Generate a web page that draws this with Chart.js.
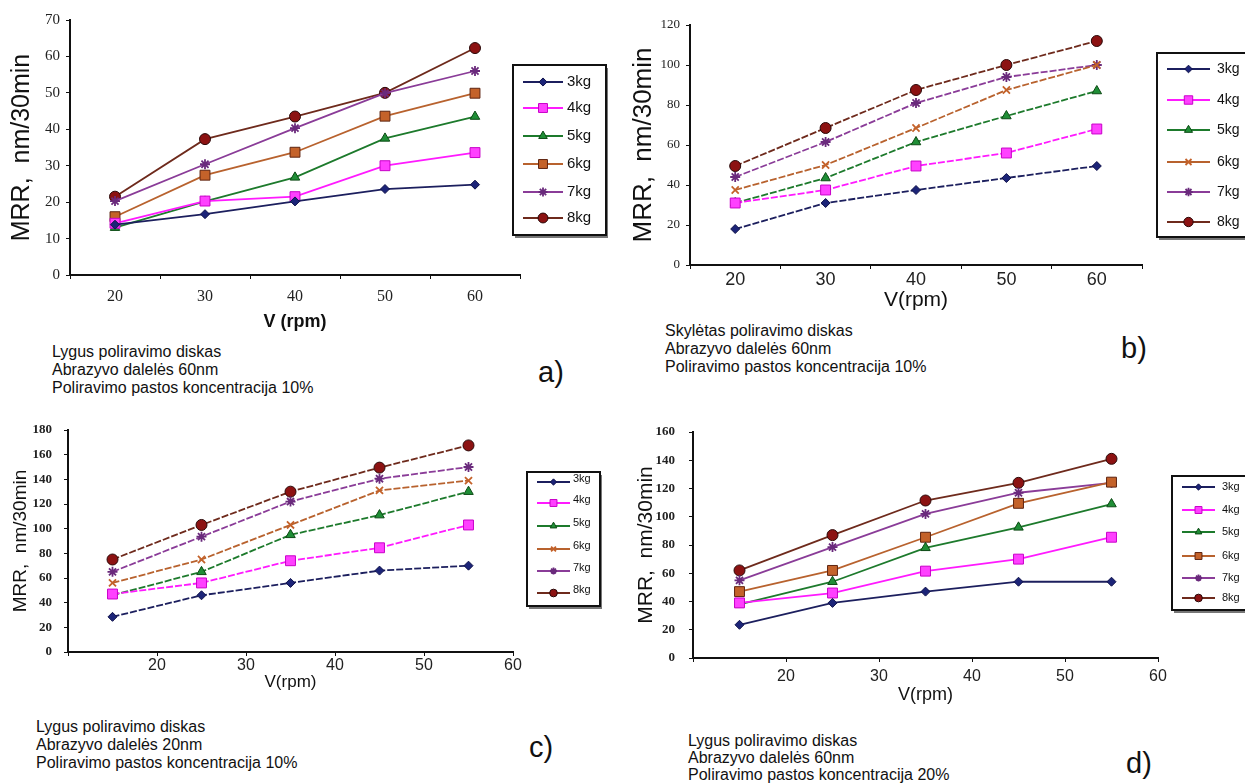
<!DOCTYPE html>
<html lang="lt">
<head>
    <meta charset="UTF-8">
    <title>MRR priklausomybė nuo apsukų</title>
    <script src="https://cdn.jsdelivr.net/npm/chart.js"></script>
    <style>
        body {
            margin: 0;
            padding: 0;
            background: #fff;
            font-family: 'Liberation Sans', Arial, sans-serif;
        }

        .page {
            position: relative;
            width: 1245px;
            height: 783px;
            overflow: hidden;
        }

        canvas {
            position: absolute;
        }

        .caption {
            position: absolute;
            color: #111;
            white-space: nowrap;
            font-size: 16px;
            line-height: 18px;
        }

        .panel-label {
            position: absolute;
            font-size: 29px;
            color: #111;
        }
    </style>
</head>
<body>
    <div class="page">
        <canvas id="chartA" width="620" height="340" style="left:0;top:0"></canvas>
        <canvas id="chartB" width="625" height="320" style="left:620px;top:0"></canvas>
        <canvas id="chartC" width="620" height="300" style="left:0;top:400px"></canvas>
        <canvas id="chartD" width="625" height="310" style="left:620px;top:400px"></canvas>

        <div class="caption" style="left:52px;top:343px">Lygus poliravimo diskas<br>Abrazyvo dalelės 60nm<br>Poliravimo pastos koncentracija 10%</div>
        <div class="caption" style="left:665px;top:322px">Skylėtas poliravimo diskas<br>Abrazyvo dalelės 60nm<br>Poliravimo pastos koncentracija 10%</div>
        <div class="caption" style="left:36px;top:718px">Lygus poliravimo diskas<br>Abrazyvo dalelės 20nm<br>Poliravimo pastos koncentracija 10%</div>
        <div class="caption" style="left:688px;top:732px;line-height:17px">Lygus poliravimo diskas<br>Abrazyvo dalelės 60nm<br>Poliravimo pastos koncentracija 20%</div>

        <div class="panel-label" style="left:538px;top:356px">a)</div>
        <div class="panel-label" style="left:1121px;top:332px">b)</div>
        <div class="panel-label" style="left:529px;top:731px">c)</div>
        <div class="panel-label" style="left:1126px;top:747px">d)</div>
    </div>

    <script>
        // apkrovos (legenda)
        const kgLabels = ['3kg', '4kg', '5kg', '6kg', '7kg', '8kg'];

        // a) ir b) - apsukos kaip kategorijos
        const rpmAB = ['20', '30', '40', '50', '60'];
        // c) ir d) - apsukos skaitinėje ašyje
        const rpmCD = [15, 25, 35, 45, 55];

        // MRR, nm/30min - eilutės pagal kgLabels
        const mrrA = [
            [13.8, 16.7, 20.2, 23.6, 24.8],
            [14.2, 20.3, 21.5, 30.0, 33.6],
            [13.0, 20.2, 26.8, 37.5, 43.5],
            [16.0, 27.4, 33.7, 43.6, 49.9],
            [20.3, 30.4, 40.3, 49.9, 56.0],
            [21.5, 37.3, 43.5, 50.0, 62.3]
        ];

        const mrrB = [
            [18, 31, 37.5, 43.5, 49.5],
            [31, 37.5, 49.5, 56, 68],
            [31, 43.5, 61.5, 74.5, 87],
            [37.5, 50, 68.5, 87.5, 100],
            [44, 61.5, 81, 94, 100],
            [49.5, 68.5, 87.5, 100, 112]
        ];

        const mrrC = [
            [28.5, 46, 56, 66, 70],
            [47, 56, 74, 84.5, 103],
            [46, 65, 95, 111, 130],
            [56, 75, 103, 131, 139],
            [65, 93.5, 122, 140.5, 150],
            [75, 103, 130, 149.5, 167.5]
        ];

        const mrrD = [
            [23.5, 39, 47, 54, 54],
            [39, 46, 61.5, 70, 85.5],
            [38, 54, 78, 92.5, 109],
            [47, 62, 85.5, 109.5, 124.5],
            [55, 78.5, 102, 117, 124],
            [62, 87, 111.5, 124, 141]
        ];

        const SANS = "'Liberation Sans', Arial, sans-serif";
        const SERIF = "'Liberation Serif', 'Times New Roman', serif";

        // spalvos ir žymekliai
        const lineColors = ['#1c1f5e', '#ff1aff', '#1d7a2c', '#b8622e', '#8a3c98', '#6e2a1c'];
        const pointFill = ['#1c2478', '#ff40ff', '#1f8e36', '#c4622a', '#6a2a7c', '#8c1212'];
        const pointEdge = ['#10124a', '#c800c8', '#0c4a14', '#5e2410', '#5a1a6a', '#2a0808'];

        const stylesSquare = ['rectRot', 'rect', 'triangle', 'rect', 'star', 'circle'];
        const stylesCross = ['rectRot', 'rect', 'triangle', 'crossRot', 'star', 'circle'];
        const radiiSquare = [4.5, 7, 5.5, 7, 5, 5.5];
        const radiiCross = [4.5, 7, 5.5, 5, 5, 5.5];

        const boxLegend = {
            id: 'boxLegend',
            afterDraw(chart, args, opts) {
                const ctx = chart.ctx;
                ctx.save();
                ctx.fillStyle = '#777';
                ctx.fillRect(opts.x + 2, opts.y + 3, opts.w, opts.h);
                ctx.fillStyle = '#fff';
                ctx.fillRect(opts.x, opts.y, opts.w, opts.h);
                ctx.strokeStyle = '#111';
                ctx.lineWidth = 2;
                ctx.strokeRect(opts.x, opts.y, opts.w, opts.h);

                chart.data.datasets.forEach((ds, i) => {
                    const y = opts.rows[i];
                    ctx.setLineDash([]);
                    ctx.strokeStyle = ds.borderColor;
                    ctx.lineWidth = 2;
                    ctx.beginPath();
                    ctx.moveTo(opts.x1, y);
                    ctx.lineTo(opts.x2, y);
                    ctx.stroke();

                    const mx = (opts.x1 + opts.x2) / 2;
                    ctx.fillStyle = ds.pointBackgroundColor;
                    ctx.strokeStyle = ds.pointBorderColor;
                    ctx.lineWidth = ds.pointBorderWidth;
                    const r = ds.pointRadius * opts.scale;
                    if (Chart.helpers && Chart.helpers.drawPoint) {
                        Chart.helpers.drawPoint(ctx, { pointStyle: ds.pointStyle, radius: r, rotation: 0, borderWidth: ds.pointBorderWidth }, mx, y);
                    } else {
                        ctx.beginPath();
                        ctx.arc(mx, y, r, 0, Math.PI * 2);
                        ctx.fill();
                        ctx.stroke();
                    }

                    ctx.fillStyle = '#111';
                    ctx.font = opts.font + 'px ' + SANS;
                    ctx.textAlign = 'left';
                    ctx.textBaseline = 'middle';
                    ctx.fillText(ds.label, opts.tx, y + (opts.textDy || 0));
                });
                ctx.restore();
            }
        };

        function buildDatasets(values, xs, styles, radii, dash) {
            return values.map((row, i) => ({
                label: kgLabels[i],
                data: xs ? row.map((v, j) => ({ x: xs[j], y: v })) : row,
                borderColor: lineColors[i],
                borderWidth: 1.8,
                borderDash: dash,
                pointStyle: styles[i],
                pointRadius: radii[i],
                pointBackgroundColor: pointFill[i],
                pointBorderColor: (styles[i] === 'star' || styles[i] === 'crossRot') ? pointFill[i] : pointEdge[i],
                pointBorderWidth: (styles[i] === 'star' || styles[i] === 'crossRot') ? 1.8 : 1,
                tension: 0,
                fill: false
            }));
        }

        function makeChart(id, p) {
            const xScale = p.linear ? {
                type: 'linear',
                min: 10,
                max: 60,
                ticks: {
                    stepSize: 10,
                    padding: p.xTickPad,
                    color: '#222',
                    font: { family: p.xTickFamily, size: p.xTickSize },
                    callback: v => (v === 10 ? '' : v)
                }
            } : {
                type: 'category',
                labels: rpmAB,
                offset: true,
                ticks: {
                    padding: p.xTickPad,
                    color: '#222',
                    font: { family: p.xTickFamily, size: p.xTickSize }
                }
            };
            xScale.grid = { display: true, drawOnChartArea: false, drawTicks: true, tickLength: 4, color: '#111', offset: !p.linear };
            xScale.border = { display: true, color: '#111', width: 2 };
            xScale.title = {
                display: true,
                text: p.xTitle,
                color: '#111',
                font: { family: SANS, size: p.xTitleSize, weight: p.xTitleWeight || 'normal' },
                padding: { top: 0, bottom: p.xTitlePad }
            };
            xScale.afterFit = s => { s.height = p.xHeight; };

            return new Chart(document.getElementById(id), {
                type: 'line',
                data: { datasets: buildDatasets(p.values, p.linear ? rpmCD : null, p.styles, p.radii, p.dash) },
                options: {
                    responsive: false,
                    animation: false,
                    devicePixelRatio: 1,
                    layout: { padding: p.pad },
                    plugins: {
                        legend: { display: false },
                        tooltip: { enabled: false },
                        boxLegend: p.legend
                    },
                    scales: {
                        x: xScale,
                        y: {
                            min: 0,
                            max: p.yMax,
                            ticks: {
                                stepSize: p.yStep,
                                padding: p.yTickPad,
                                color: '#222',
                                font: { family: SERIF, size: p.yTickSize, weight: p.yTickWeight || 'normal' }
                            },
                            grid: { display: true, drawOnChartArea: false, drawTicks: true, tickLength: 4, color: '#111' },
                            border: { display: true, color: '#111', width: 2 },
                            title: {
                                display: true,
                                text: 'MRR,  nm/30min',
                                color: '#111',
                                font: { family: SANS, size: p.yTitleSize },
                                padding: { top: p.yTitlePad, bottom: 0 }
                            },
                            afterFit: s => { s.width = p.yWidth; }
                        }
                    }
                },
                plugins: [boxLegend]
            });
        }

        // a)
        makeChart('chartA', {
            values: mrrA, styles: stylesSquare, radii: radiiSquare, dash: [],
            yMax: 70, yStep: 10, yTickSize: 15, yTickPad: 6, yWidth: 70,
            yTitleSize: 25, yTitlePad: 7,
            xTickSize: 16, xTickFamily: SERIF, xTickPad: 8,
            xTitle: 'V (rpm)', xTitleSize: 18, xTitleWeight: 'bold', xTitlePad: 2, xHeight: 60,
            pad: { left: 0, top: 20, right: 100, bottom: 5 },
            legend: { x: 513, y: 65, w: 93, h: 170, x1: 523, x2: 563, tx: 567, font: 15, scale: 0.9,
                rows: [82, 108, 136, 164, 192, 218] }
        });

        // b)
        makeChart('chartB', {
            values: mrrB, styles: stylesCross, radii: radiiCross, dash: [7, 2],
            yMax: 120, yStep: 20, yTickSize: 13, yTickPad: 6, yWidth: 70,
            yTitleSize: 26, yTitlePad: 8,
            xTickSize: 18, xTickFamily: SANS, xTickPad: 0,
            xTitle: 'V(rpm)', xTitleSize: 21, xTitlePad: 2, xHeight: 50,
            pad: { left: 0, top: 25, right: 103, bottom: 5 },
            legend: { x: 537, y: 53, w: 110, h: 184, x1: 547, x2: 590, tx: 597, font: 14, scale: 0.85,
                rows: [69, 100, 130, 162, 192, 222] }
        });

        // c)
        makeChart('chartC', {
            values: mrrC, styles: stylesCross, radii: radiiCross, dash: [7, 2], linear: true,
            yMax: 180, yStep: 20, yTickSize: 13, yTickWeight: 'bold', yTickPad: 12, yWidth: 68,
            yTitleSize: 19, yTitlePad: 9,
            xTickSize: 16, xTickFamily: SANS, xTickPad: 0,
            xTitle: 'V(rpm)', xTitleSize: 17, xTitlePad: 4, xHeight: 45,
            pad: { left: 0, top: 30, right: 107, bottom: 3 },
            legend: { x: 527, y: 72, w: 73, h: 134, x1: 537, x2: 570, tx: 573, font: 11, scale: 0.7, textDy: -3,
                rows: [82, 103, 126, 149, 171, 193] }
        });

        // d)
        makeChart('chartD', {
            values: mrrD, styles: stylesSquare, radii: radiiSquare, dash: [], linear: true,
            yMax: 160, yStep: 20, yTickSize: 13, yTickWeight: 'bold', yTickPad: 14, yWidth: 73,
            yTitleSize: 21, yTitlePad: 14,
            xTickSize: 16, xTickFamily: SANS, xTickPad: 5,
            xTitle: 'V(rpm)', xTitleSize: 18, xTitlePad: 2, xHeight: 50,
            pad: { left: 0, top: 32, right: 87, bottom: 2 },
            legend: { x: 552, y: 76, w: 100, h: 134, x1: 562, x2: 595, tx: 602, font: 11, scale: 0.7,
                rows: [87, 110, 132, 156, 178, 198] }
        });
    </script>
</body>
</html>
